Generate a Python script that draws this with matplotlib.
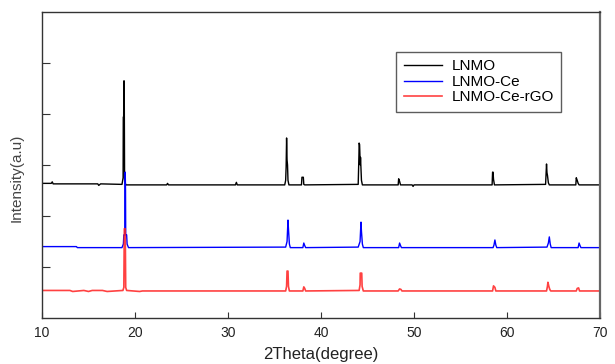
import matplotlib
matplotlib.use("Agg")
import matplotlib.pyplot as plt

plt.rcParams['font.family'] = ['Liberation Sans', 'DejaVu Sans']

series_names = ["LNMO", "LNMO-Ce", "LNMO-Ce-rGO"]
series_colors = ["#000000", "#0000ff", "#ff2020"]

# LNMO (offset curve)
lnmo_x = [10, 11.0, 11.1, 11.2, 16.0, 16.1, 16.3, 18.6, 18.72, 18.74, 18.78, 18.80, 18.84, 18.88, 19.0,
          23.4, 23.5, 23.6, 30.8, 30.9, 31.0,
          36.1, 36.2, 36.25, 36.3, 36.35, 36.4, 36.45, 36.55,
          37.9, 37.95, 38.1, 38.15, 38.25,
          44.0, 44.08, 44.1, 44.15, 44.22, 44.25, 44.35, 44.45,
          48.3, 48.35, 48.45, 48.55, 49.8, 49.9, 50.0,
          58.4, 58.45, 58.5, 58.55, 58.65,
          64.15, 64.25, 64.3, 64.35, 64.45, 64.55,
          67.4, 67.45, 67.55, 67.65, 67.75, 70]
lnmo_y = [2.64, 2.64, 2.67, 2.63, 2.63, 2.60, 2.63, 2.62, 2.75, 3.94, 3.94, 4.65, 4.65, 2.72, 2.61,
          2.61, 2.64, 2.61, 2.61, 2.66, 2.61,
          2.61, 2.70, 2.96, 3.53, 3.10, 3.00, 2.70, 2.61,
          2.61, 2.76, 2.76, 2.62, 2.61,
          2.62, 3.20, 3.43, 3.40, 3.00, 3.15, 2.70, 2.61,
          2.61, 2.73, 2.68, 2.61, 2.61, 2.58, 2.61,
          2.61, 2.86, 2.86, 2.72, 2.61,
          2.62, 3.02, 2.85, 2.80, 2.65, 2.61,
          2.61, 2.75, 2.70, 2.64, 2.61, 2.61]

# LNMO-Ce
ce_x = [10, 13.7, 13.8, 18.6, 18.75, 18.8, 18.9, 18.92, 18.95, 18.98, 19.0, 19.1, 19.15, 19.3,
        36.2, 36.35, 36.45, 36.5, 36.6, 36.7,
        38.05, 38.15, 38.25, 38.35,
        44.0, 44.2, 44.3, 44.35, 44.45, 44.55,
        48.35, 48.45, 48.55, 48.65,
        58.5, 58.6, 58.7, 58.8, 58.9,
        64.3, 64.45, 64.55, 64.65, 64.75,
        67.65, 67.75, 67.85, 67.95, 70]
ce_y = [1.40, 1.40, 1.38, 1.38, 1.45, 1.63, 1.63, 2.50, 2.86, 2.50, 1.63, 1.63, 1.45, 1.38,
        1.39, 1.50, 1.92, 1.75, 1.45, 1.38,
        1.38, 1.47, 1.42, 1.38,
        1.39, 1.50, 1.88, 1.70, 1.45, 1.38,
        1.38, 1.47, 1.42, 1.38,
        1.38, 1.43, 1.53, 1.43, 1.38,
        1.39, 1.47, 1.59, 1.45, 1.38,
        1.38, 1.47, 1.42, 1.38, 1.38]

# LNMO-Ce-rGO
rgo_x = [10, 13.0, 13.3, 14.5, 15.0, 15.4, 16.5, 17.0, 18.7, 18.8, 18.85, 18.95, 19.0, 19.1, 20.5, 20.8,
         36.2, 36.3, 36.35, 36.45, 36.5, 36.6,
         38.05, 38.15, 38.25, 38.35,
         44.1, 44.2, 44.22, 44.38, 44.42, 44.55,
         48.3, 48.45, 48.6, 48.7,
         58.45, 58.55, 58.7, 58.8,
         64.25, 64.35, 64.4, 64.5, 64.6, 64.7,
         67.45, 67.55, 67.7, 67.8, 70]
rgo_y = [0.54, 0.54, 0.52, 0.54, 0.52, 0.54, 0.54, 0.52, 0.54, 0.60, 1.75, 1.75, 0.60, 0.54, 0.52, 0.53,
         0.53, 0.62, 0.92, 0.92, 0.62, 0.53,
         0.53, 0.61, 0.58, 0.53,
         0.54, 0.65, 0.88, 0.88, 0.62, 0.53,
         0.53, 0.57, 0.56, 0.53,
         0.53, 0.63, 0.60, 0.53,
         0.53, 0.62, 0.70, 0.62, 0.56, 0.53,
         0.53, 0.58, 0.59, 0.53, 0.53]

x_ticks = [10, 20, 30, 40, 50, 60, 70]
y_ticks = [1, 2, 3, 4, 5]

fig = plt.figure(figsize=(6.15, 3.64), dpi=100)
ax = fig.add_axes([0.0683, 0.1264, 0.9073, 0.8406])

ax.plot(lnmo_x, lnmo_y, color=series_colors[0], lw=1.0, label=series_names[0])
ax.plot(ce_x, ce_y, color=series_colors[1], lw=1.0, label=series_names[1])
ax.plot(rgo_x, rgo_y, color=series_colors[2], lw=1.2, alpha=0.85, label=series_names[2])

ax.set_xlim(10, 70)
ax.set_ylim(0, 6)
ax.set_xticks(x_ticks)
ax.set_xticklabels([str(t) for t in x_ticks], fontsize=10)
ax.set_yticks(y_ticks)
ax.set_yticklabels([])
ax.tick_params(axis='x', direction='in', length=4, width=0.8, colors='#333333', labelcolor='#222222', pad=6)
ax.tick_params(axis='y', direction='in', length=6, width=0.8, colors='#333333')
for s in ax.spines.values():
    s.set_color('#333333')
    s.set_linewidth(1.0)
ax.spines['right'].set_color('#666666')
ax.spines['right'].set_linewidth(1.6)

ax.set_xlabel("2Theta(degree)", fontsize=12, color='#222222', labelpad=5)
ax.set_ylabel("Intensity(a.u)", fontsize=11, color='#444444')
ax.yaxis.set_label_coords(-0.033, 0.457)

leg = ax.legend(loc='upper left', bbox_to_anchor=(0.635, 0.87), fontsize=11, frameon=True,
                fancybox=False, edgecolor='#333333', handlelength=2.5, handletextpad=0.6,
                labelspacing=0.1, borderpad=0.5, borderaxespad=0)
leg.get_frame().set_linewidth(1.0)

fig.savefig("out.png", dpi=100)
